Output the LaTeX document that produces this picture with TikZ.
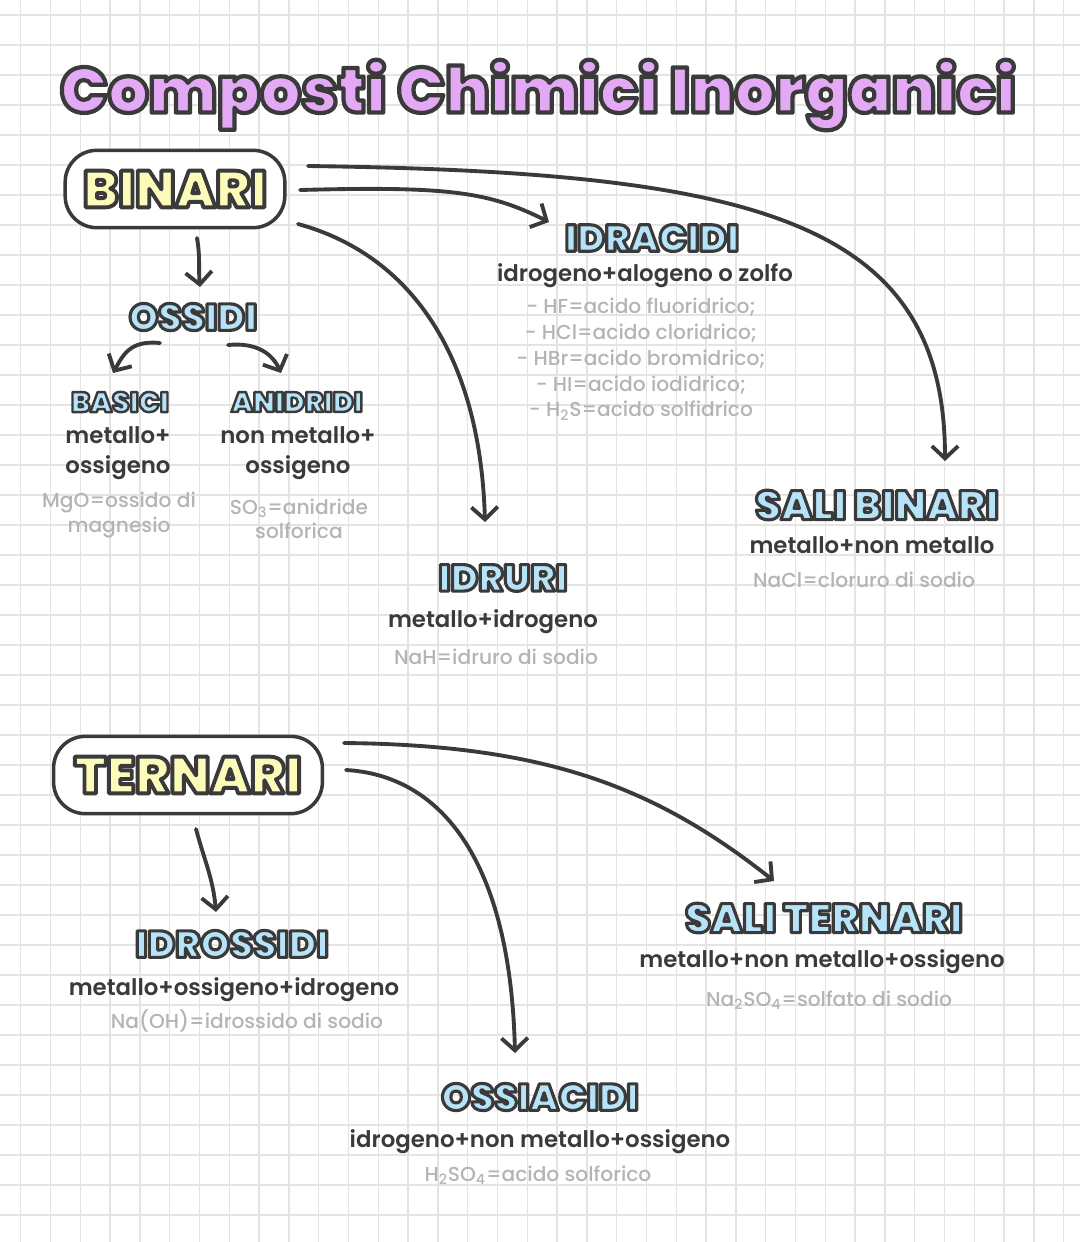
\documentclass[tikz,border=0pt]{standalone}
\usepackage{fontspec}
\setmainfont{Poppins Medium}[BoldFont={Poppins Bold}]
\newfontfamily\bubblefont{Poppins Black}
\newfontfamily\inkfont{Poppins SemiBold}
\usetikzlibrary{arrows.meta, calc}
\definecolor{ink}{HTML}{3A3A3A}
\definecolor{soft}{HTML}{B4B4B4}
\definecolor{gridline}{HTML}{E4E4E4}
\definecolor{skyfill}{HTML}{B6E3F8}
\definecolor{lemonfill}{HTML}{FDFBB9}
\definecolor{lilacfill}{HTML}{E3A9F4}
% testo pieno con bordo scuro
\newcommand{\bub}[2][1.8]{\special{pdf:literal direct 0.227 0.227 0.227 RG #1 w 1 j 2 Tr}#2\special{pdf:literal direct 0 Tr}}
\tikzstyle{maintitle} = [text=lilacfill, font=\bubblefont\fontsize{36.3}{40}\selectfont]
\tikzstyle{groupbox} = [draw=ink, fill=white, line width=2pt, rounded corners=18pt, minimum height=44pt, text=lemonfill, font=\bubblefont\fontsize{29.5}{34}\selectfont]
\tikzstyle{kind} = [text=skyfill, font=\bubblefont\fontsize{21.3}{26}\selectfont]
\tikzstyle{subkind} = [text=skyfill, font=\bubblefont\fontsize{16}{20}\selectfont]
\tikzstyle{formula} = [text=ink, align=center, font=\inkfont\fontsize{13}{17}\selectfont]
\tikzstyle{example} = [text=soft, align=center, font=\fontsize{11.5}{14}\selectfont]
\tikzstyle{arrow} = [draw=ink, line width=2.2pt, line cap=round, -{Straight Barb[length=7pt, width=15pt]}]

\begin{document}
\begin{tikzpicture}[x=0.02cm, y=0.02cm]
\useasboundingbox (0,0) rectangle (1080,-1242);
% quaderno
\foreach \gx in {0,...,35} \draw[gridline, line width=0.7pt] (20.7+29.8*\gx,0) -- (20.7+29.8*\gx,-1242);
\foreach \gy in {0,...,41} \draw[gridline, line width=0.7pt] (0,-15-30*\gy) -- (1080,-15-30*\gy);

\node (title) [maintitle] at (538,-95) {\bub[2.4]{Composti Chimici Inorganici}};

% binari
\node (binari) [groupbox, minimum width=125pt] at (175,-189) {\bub[2.2]{BINARI}};
\node (ossidi) [kind] at (193,-317) {\bub{OSSIDI}};
\node (basici) [subkind] at (120,-402) {\bub[1.4]{BASICI}};
\node (anidridi) [subkind] at (297,-402) {\bub[1.4]{ANIDRIDI}};
\node (basicidef) [formula] at (118,-453) {metallo+\\ossigeno};
\node (anidridef) [formula] at (298,-453) {non metallo+\\ossigeno};
\node (basiciex) [example] at (119,-515) {MgO=ossido di\\magnesio};
\node (anidriex) [example] at (299,-519) {SO\textsubscript{3}=anidride\\solforica};
\node (idracidi) [kind] at (652,-238) {\bub{IDRACIDI}};
\node (idracididef) [formula] at (645,-276) {idrogeno+alogeno o zolfo};
\node (idracidiex) [example, font=\fontsize{11.5}{14.7}\selectfont] at (641,-359) {- HF=acido fluoridrico;\\- HCl=acido cloridrico;\\- HBr=acido bromidrico;\\- HI=acido iodidrico;\\- H\textsubscript{2}S=acido solfidrico};
\node (idruri) [kind] at (503,-578) {\bub{IDRURI}};
\node (idruridef) [formula] at (493,-622) {metallo+idrogeno};
\node (idruriex) [example] at (496,-657) {NaH=idruro di sodio};
\node (salibin) [kind, font=\bubblefont\fontsize{23.3}{28}\selectfont] at (877,-505) {\bub{SALI BINARI}};
\node (salibindef) [formula] at (872,-545) {metallo+non metallo};
\node (salibinex) [example] at (864,-580) {NaCl=cloruro di sodio};

% ternari
\node (ternari) [groupbox, minimum width=153pt] at (188,-775) {\bub[2.2]{TERNARI}};
\node (idrossidi) [kind] at (232,-944) {\bub{IDROSSIDI}};
\node (idrossididef) [formula] at (234,-990) {metallo+ossigeno+idrogeno};
\node (idrossidiex) [example] at (247,-1021) {Na(OH)=idrossido di sodio};
\node (saliter) [kind, font=\bubblefont\fontsize{23.3}{28}\selectfont] at (824,-918) {\bub{SALI TERNARI}};
\node (saliterdef) [formula] at (822,-962) {metallo+non metallo+ossigeno};
\node (saliterex) [example] at (829,-1000) {Na\textsubscript{2}SO\textsubscript{4}=solfato di sodio};
\node (ossiacidi) [kind] at (540,-1097) {\bub{OSSIACIDI}};
\node (ossiacididef) [formula] at (540,-1142) {idrogeno+non metallo+ossigeno};
\node (ossiacidiex) [example] at (538,-1175) {H\textsubscript{2}SO\textsubscript{4}=acido solforico};

% frecce
\draw [arrow] ($(binari)+(22,-49)$) to[out=-80, in=95] ($(ossidi)+(7,30)$);
\draw [arrow] ($(ossidi)+(-33,-26)$) .. controls +(-30,3) and +(10,18) .. ($(basici)+(-7,29)$);
\draw [arrow] ($(ossidi)+(35,-28)$) .. controls +(30,3) and +(-8,18) .. ($(anidridi)+(-16,29)$);
\draw [arrow] ($(binari)+(125,-1)$) .. controls +(150,4) and +(-60,30) .. ($(idracidi)+(-103,16)$);
\draw [arrow] ($(binari)+(123,-35)$) .. controls +(110,-30) and +(-5,170) .. ($(idruri)+(-18,56)$);
\draw [arrow] ($(binari)+(133,23)$) .. controls +(450,-6) and +(0,240) .. ($(salibin)+(68,44)$);
\draw [arrow] ($(ternari)+(8,-54)$) to[out=-75, in=95] ($(idrossidi)+(-16,32)$);
\draw [arrow] ($(ternari)+(156,32)$) .. controls +(200,-2) and +(-120,95) .. ($(saliter)+(-50,37)$);
\draw [arrow] ($(ternari)+(158,5)$) .. controls +(90,-5) and +(-5,200) .. ($(ossiacidi)+(-25,44)$);
\end{tikzpicture}
\end{document}
